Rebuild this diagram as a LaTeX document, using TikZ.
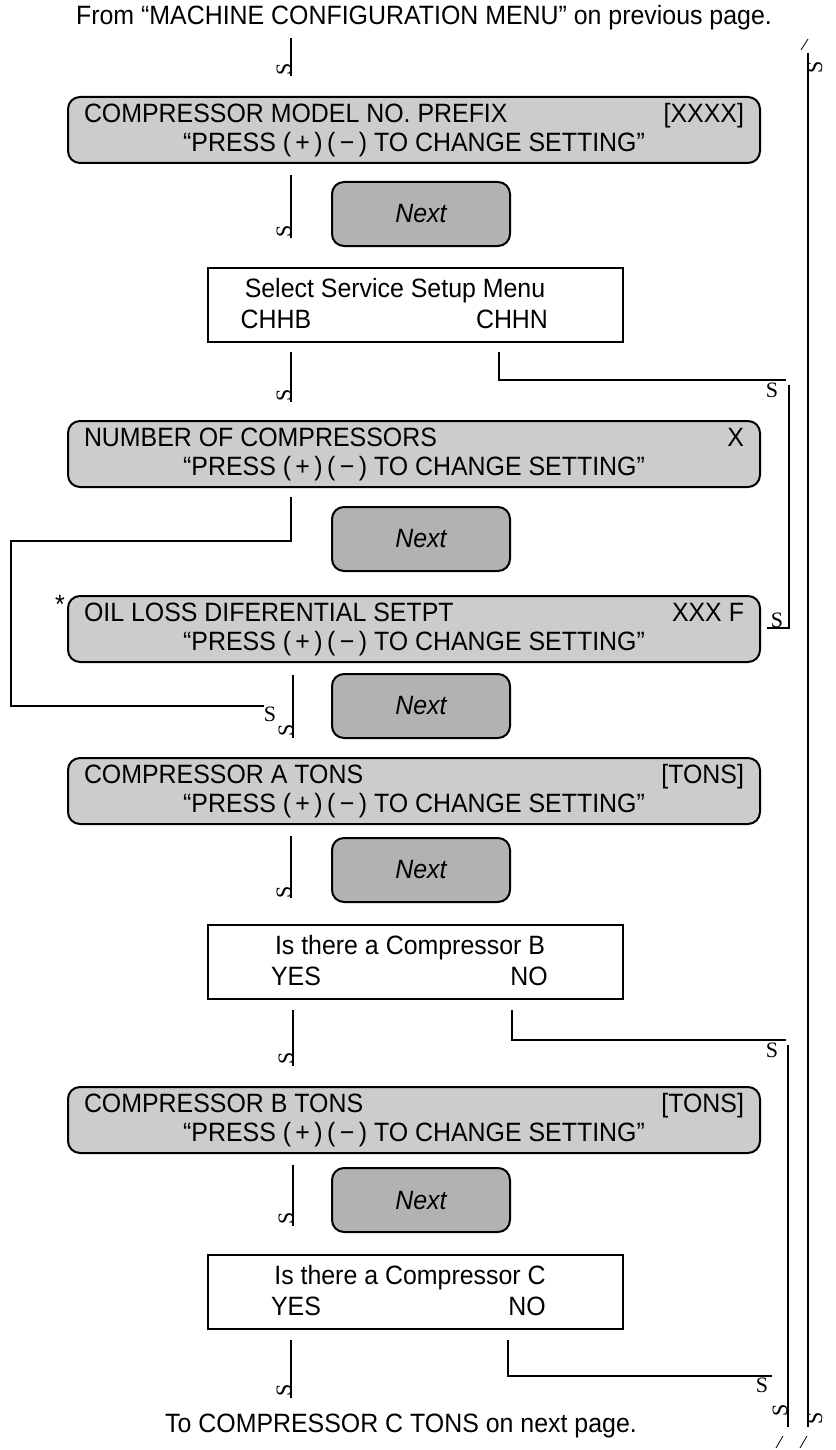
\documentclass[tikz,border=0pt]{standalone}
\usepackage{fontspec}
\setmainfont{Liberation Sans}[FakeStretch=0.94]
\newfontfamily\serifS{Liberation Serif}
\definecolor{lightfill}{gray}{0.80}
\definecolor{nextfill}{gray}{0.70}
\begin{document}
\begin{tikzpicture}[x=1pt,y=-1pt,
  font=\fontsize{26.5}{29}\selectfont,
  graybox/.style={draw, line width=2pt, rounded corners=12pt, fill=lightfill, minimum width=692pt, minimum height=66pt, inner sep=0pt, align=center},
  nextbox/.style={draw, line width=2pt, rounded corners=12pt, fill=nextfill, minimum width=178pt, minimum height=64pt, inner sep=0pt, font=\fontsize{26.5}{29}\selectfont\itshape},
  whitebox/.style={draw, line width=2pt, minimum width=415pt, minimum height=74pt, inner sep=0pt},
  conn/.style={line width=2pt},
  thinline/.style={line width=0.8pt},
  sglyph/.style={font=\serifS\fontsize{22}{22}\selectfont, inner sep=0pt},
  txt/.style={inner sep=0pt},
]
\useasboundingbox (0,0) rectangle (835,1450);

% top and bottom texts
\node[txt] (top) at (424,18) {From “MACHINE CONFIGURATION MENU” on previous page.};
\node[txt] (bottom) at (401,1426) {To COMPRESSOR C TONS on next page.};

% boxes
\node[graybox] (b1) at (414,130) {\makebox[660pt]{COMPRESSOR MODEL NO. PREFIX\hfill[XXXX]}\\“PRESS (\,+\,)\,(\,−\,) TO CHANGE SETTING”};
\node[nextbox] (n1) at (421,214) {Next};
\node[whitebox] (w1) at (415.5,305) {};
\node[txt] (w1t) at (395,291) {Select Service Setup Menu};
\node[txt] (w1a) at (276,319) {CHHB};
\node[txt] (w1b) at (512,319) {CHHN};

\node[graybox] (b2) at (414,454) {\makebox[660pt]{NUMBER OF COMPRESSORS\hfill X}\\“PRESS (\,+\,)\,(\,−\,) TO CHANGE SETTING”};
\node[nextbox] (n2) at (421,539) {Next};
\node[graybox] (b3) at (414,629) {\makebox[660pt]{OIL LOSS DIFERENTIAL SETPT\hfill XXX F}\\“PRESS (\,+\,)\,(\,−\,) TO CHANGE SETTING”};
\node[txt] (ast) at (60,604) {*};
\node[nextbox] (n3) at (421,706) {Next};
\node[graybox] (b4) at (414,791) {\makebox[660pt]{COMPRESSOR A TONS\hfill[TONS]}\\“PRESS (\,+\,)\,(\,−\,) TO CHANGE SETTING”};
\node[nextbox] (n4) at (421,870) {Next};
\node[whitebox] (w2) at (415.5,962) {};
\node[txt] (w2t) at (410,948) {Is there a Compressor B};
\node[txt] (w2a) at (296,976) {YES};
\node[txt] (w2b) at (529,976) {NO};
\node[graybox] (b5) at (414,1120) {\makebox[660pt]{COMPRESSOR B TONS\hfill[TONS]}\\“PRESS (\,+\,)\,(\,−\,) TO CHANGE SETTING”};
\node[nextbox] (n5) at (421,1200) {Next};
\node[whitebox] (w3) at (415.5,1292) {};
\node[txt] (w3t) at (410,1278) {Is there a Compressor C};
\node[txt] (w3a) at (296,1306) {YES};
\node[txt] (w3b) at (527,1306) {NO};

% connector coordinates
\coordinate (a1s) at (291,38);  \coordinate (a1e) at (291,76);
\coordinate (a2s) at (291,175); \coordinate (a2e) at (291,238);
\coordinate (a3s) at (291,352); \coordinate (a3e) at (291,402);
\coordinate (c1s) at (499,352); \coordinate (c1m) at (499,380); \coordinate (c1e) at (786,380);
\coordinate (r1s) at (789,385); \coordinate (r1m) at (789,628); \coordinate (r1e) at (767,628);
\coordinate (l1s) at (291,497); \coordinate (l1a) at (291,541); \coordinate (l1b) at (11,541); \coordinate (l1c) at (11,706); \coordinate (l1e) at (264,706);
\coordinate (a4s) at (293,675); \coordinate (a4e) at (293,738);
\coordinate (a5s) at (291,836); \coordinate (a5e) at (291,898);
\coordinate (a6s) at (293,1010); \coordinate (a6e) at (293,1066);
\coordinate (c2s) at (512,1010); \coordinate (c2m) at (512,1040); \coordinate (c2e) at (786,1040);
\coordinate (r2s) at (788,1045); \coordinate (r2e) at (788,1427);
\coordinate (a7s) at (293,1165); \coordinate (a7e) at (293,1226);
\coordinate (a8s) at (291,1340); \coordinate (a8e) at (291,1398);
\coordinate (c3s) at (508,1340); \coordinate (c3m) at (508,1376); \coordinate (c3e) at (772,1376);
\coordinate (rls) at (808,53); \coordinate (rle) at (808,1427);

\draw[conn] (a1s) -- (a1e);
\draw[conn] (a2s) -- (a2e);
\draw[conn] (a3s) -- (a3e);
\draw[conn] (c1s) -- (c1m) -- (c1e);
\draw[conn] (r1s) -- (r1m) -- (r1e);
\draw[conn] (l1s) -- (l1a) -- (l1b) -- (l1c) -- (l1e);
\draw[conn] (a4s) -- (a4e);
\draw[conn] (a5s) -- (a5e);
\draw[conn] (a6s) -- (a6e);
\draw[conn] (c2s) -- (c2m) -- (c2e);
\draw[conn] (r2s) -- (r2e);
\draw[conn] (a7s) -- (a7e);
\draw[conn] (a8s) -- (a8e);
\draw[conn] (c3s) -- (c3m) -- (c3e);
\draw[conn] (rls) -- (rle);

% broken arrow-head glyphs
\node[sglyph, rotate=90] (s1) at (284,69) {S};
\node[sglyph, rotate=90] (s2) at (284,231) {S};
\node[sglyph, rotate=90] (s3) at (284,395) {S};
\node[sglyph] (s4) at (772,390) {S};
\node[sglyph] (s5) at (777,620) {S};
\node[sglyph] (s6) at (270,714) {S};
\node[sglyph, rotate=90] (s7) at (286,730) {S};
\node[sglyph, rotate=90] (s8) at (284,892) {S};
\node[sglyph, rotate=90] (s9) at (286,1058) {S};
\node[sglyph] (s10) at (772,1050) {S};
\node[sglyph, rotate=90] (s11) at (286,1218) {S};
\node[sglyph, rotate=90] (s12) at (284,1390) {S};
\node[sglyph] (s13) at (762,1385) {S};
\node[sglyph, rotate=90] (s14) at (780,1410) {S};
\node[sglyph, rotate=90] (s15) at (815,67) {S};
\node[sglyph, rotate=90] (s16) at (815,1418) {S};

% slashes
\coordinate (t1a) at (801,50); \coordinate (t1b) at (808,39);
\coordinate (t2a) at (776,1448); \coordinate (t2b) at (783,1436);
\coordinate (t3a) at (800,1448); \coordinate (t3b) at (807,1436);
\draw[thinline] (t1a) -- (t1b);
\draw[thinline] (t2a) -- (t2b);
\draw[thinline] (t3a) -- (t3b);
\end{tikzpicture}
\end{document}
